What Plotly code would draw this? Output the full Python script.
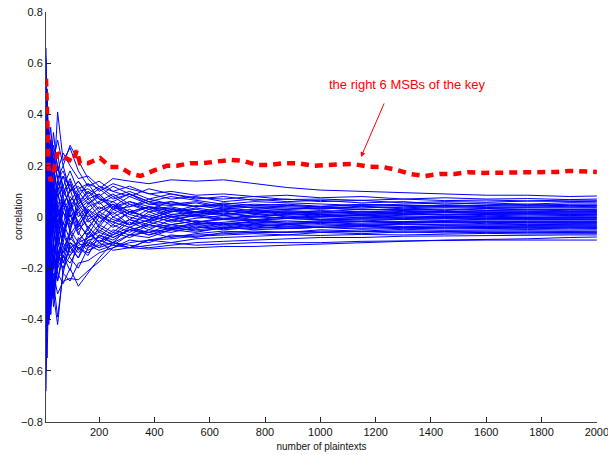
import plotly.graph_objects as go

# x positions (number of plaintexts) shared by all wrong-key traces
x_grid = [8, 12, 18, 25, 35, 50, 70, 95, 125, 160, 200, 250, 310, 380, 460, 550,
          650, 760, 880, 1000, 1150, 1300, 1450, 1600, 1750, 1900, 2000]

wrong_keys = [
    [0.30, 0.12, 0.22, 0.05, 0.18, 0.10, 0.16, 0.12, 0.08, 0.13, 0.11, 0.15, 0.14, 0.13, 0.145, 0.14, 0.145, 0.13, 0.115, 0.105, 0.10, 0.095, 0.09, 0.085, 0.085, 0.08, 0.082],
    [0.66, 0.35, 0.10, 0.25, 0.12, 0.41, 0.22, 0.27, 0.18, 0.12, 0.14, 0.10, 0.12, 0.09, 0.10, 0.085, 0.09, 0.08, 0.085, 0.075, 0.08, 0.07, 0.075, 0.07, 0.072, 0.068, 0.07],
    [-0.20, 0.40, 0.30, 0.20, 0.33, 0.18, 0.25, 0.20, 0.15, 0.16, 0.12, 0.10, 0.08, 0.11, 0.09, 0.07, 0.08, 0.065, 0.07, 0.06, 0.065, 0.055, 0.06, 0.058, 0.062, 0.06, 0.06],
    [0.10, -0.15, 0.28, 0.35, 0.22, 0.30, 0.20, 0.28, 0.22, 0.15, 0.10, 0.13, 0.11, 0.09, 0.07, 0.08, 0.06, 0.07, 0.06, 0.065, 0.055, 0.06, 0.05, 0.055, 0.05, 0.056, 0.055],
    [0.45, 0.20, -0.05, 0.15, 0.08, 0.12, 0.05, 0.10, 0.14, 0.08, 0.11, 0.07, 0.09, 0.06, 0.08, 0.065, 0.05, 0.06, 0.055, 0.05, 0.045, 0.05, 0.055, 0.05, 0.045, 0.05, 0.05],
    [-0.35, -0.10, 0.15, 0.05, 0.20, 0.08, 0.12, 0.03, 0.06, 0.10, 0.05, 0.08, 0.04, 0.07, 0.05, 0.06, 0.04, 0.05, 0.045, 0.04, 0.05, 0.045, 0.04, 0.045, 0.05, 0.044, 0.045],
    [0.25, 0.50, 0.18, 0.10, -0.02, 0.14, 0.09, 0.15, 0.07, 0.02, 0.06, 0.09, 0.05, 0.03, 0.06, 0.04, 0.05, 0.035, 0.045, 0.04, 0.035, 0.04, 0.045, 0.04, 0.038, 0.042, 0.04],
    [-0.05, 0.15, -0.12, 0.22, 0.10, -0.02, 0.06, 0.02, 0.10, 0.05, 0.08, 0.03, 0.06, 0.04, 0.02, 0.045, 0.03, 0.04, 0.035, 0.03, 0.04, 0.032, 0.036, 0.033, 0.035, 0.034, 0.035],
    [0.55, 0.05, 0.20, -0.08, 0.12, 0.06, -0.03, 0.08, 0.04, 0.07, 0.02, 0.05, 0.01, 0.04, 0.03, 0.02, 0.035, 0.025, 0.03, 0.035, 0.028, 0.03, 0.025, 0.032, 0.028, 0.03, 0.03],
    [-0.45, -0.25, 0.05, 0.12, -0.05, 0.09, 0.02, -0.04, 0.05, 0.00, 0.04, 0.01, 0.05, 0.02, 0.035, 0.015, 0.03, 0.02, 0.025, 0.02, 0.03, 0.025, 0.02, 0.025, 0.028, 0.024, 0.025],
    [0.15, -0.30, -0.08, 0.06, 0.15, -0.04, 0.10, 0.05, -0.02, 0.04, 0.06, 0.00, 0.03, -0.01, 0.02, 0.03, 0.01, 0.025, 0.015, 0.02, 0.015, 0.022, 0.018, 0.02, 0.02, 0.019, 0.02],
    [0.35, 0.08, 0.12, -0.15, 0.02, 0.11, -0.05, 0.04, 0.09, -0.01, 0.02, 0.05, -0.01, 0.03, 0.00, 0.02, 0.01, 0.02, 0.01, 0.015, 0.02, 0.012, 0.016, 0.014, 0.015, 0.016, 0.015],
    [-0.60, -0.20, -0.30, 0.00, -0.10, 0.05, 0.08, -0.02, 0.03, 0.06, 0.00, -0.02, 0.02, 0.04, 0.00, 0.01, 0.02, 0.00, 0.015, 0.005, 0.01, 0.012, 0.008, 0.01, 0.012, 0.01, 0.01],
    [0.05, 0.30, 0.00, 0.18, -0.06, 0.03, -0.08, 0.06, -0.03, 0.02, -0.04, 0.03, 0.00, -0.02, 0.01, 0.00, -0.01, 0.01, 0.005, 0.0, 0.01, 0.005, 0.0, 0.007, 0.004, 0.006, 0.005],
    [-0.25, 0.10, -0.20, -0.05, 0.08, -0.10, 0.02, -0.05, 0.04, -0.02, 0.01, -0.03, 0.02, 0.00, -0.015, 0.01, -0.005, 0.005, -0.005, 0.0, 0.005, -0.004, 0.002, 0.0, -0.002, 0.001, 0.0],
    [0.40, -0.05, 0.15, 0.02, -0.12, 0.04, -0.06, 0.01, -0.07, 0.03, -0.02, 0.02, -0.03, 0.01, -0.02, -0.005, 0.005, -0.01, 0.0, -0.008, -0.003, -0.006, -0.004, -0.006, -0.005, -0.004, -0.005],
    [-0.10, -0.40, -0.15, -0.28, -0.05, -0.12, -0.02, -0.09, -0.03, -0.07, 0.00, -0.04, -0.01, -0.03, 0.00, -0.02, -0.01, -0.015, -0.005, -0.012, -0.008, -0.01, -0.012, -0.009, -0.01, -0.011, -0.01],
    [0.20, 0.00, -0.25, -0.10, 0.05, -0.15, -0.08, 0.02, -0.06, -0.11, -0.04, -0.07, -0.02, -0.05, -0.01, -0.03, -0.02, -0.01, -0.02, -0.015, -0.012, -0.018, -0.014, -0.016, -0.015, -0.014, -0.015],
    [-0.68, -0.35, -0.10, -0.22, -0.30, -0.08, -0.14, -0.05, -0.10, -0.04, -0.08, -0.03, -0.06, -0.02, -0.04, -0.025, -0.03, -0.015, -0.025, -0.02, -0.018, -0.022, -0.02, -0.019, -0.021, -0.02, -0.02],
    [0.10, -0.18, 0.05, -0.32, -0.15, -0.20, -0.05, -0.12, -0.16, -0.06, -0.10, -0.05, -0.07, -0.03, -0.05, -0.02, -0.035, -0.025, -0.03, -0.02, -0.028, -0.025, -0.022, -0.026, -0.024, -0.025, -0.025],
    [-0.40, 0.05, -0.35, -0.12, -0.20, -0.05, -0.18, -0.08, -0.12, -0.15, -0.07, -0.10, -0.04, -0.06, -0.03, -0.045, -0.025, -0.035, -0.03, -0.025, -0.032, -0.028, -0.03, -0.031, -0.029, -0.03, -0.03],
    [0.30, -0.22, -0.40, -0.18, -0.28, -0.12, -0.22, -0.10, -0.14, -0.09, -0.12, -0.06, -0.08, -0.05, -0.06, -0.04, -0.045, -0.03, -0.04, -0.035, -0.03, -0.038, -0.034, -0.036, -0.035, -0.034, -0.035],
    [-0.55, -0.30, -0.20, -0.38, -0.10, -0.25, -0.15, -0.21, -0.08, -0.12, -0.07, -0.09, -0.05, -0.07, -0.04, -0.055, -0.045, -0.035, -0.045, -0.04, -0.038, -0.042, -0.04, -0.041, -0.039, -0.04, -0.04],
    [-0.15, -0.45, -0.28, -0.20, -0.35, -0.18, -0.10, -0.16, -0.20, -0.12, -0.09, -0.11, -0.07, -0.08, -0.05, -0.06, -0.04, -0.05, -0.045, -0.04, -0.048, -0.044, -0.046, -0.045, -0.044, -0.046, -0.045],
    [-0.30, -0.10, -0.42, -0.30, -0.25, -0.39, -0.22, -0.25, -0.18, -0.17, -0.14, -0.12, -0.09, -0.10, -0.07, -0.08, -0.06, -0.055, -0.06, -0.05, -0.055, -0.048, -0.052, -0.05, -0.049, -0.051, -0.05],
    [0.20, -0.25, -0.12, -0.33, -0.22, -0.30, -0.25, -0.24, -0.245, -0.21, -0.175, -0.12, -0.10, -0.09, -0.075, -0.07, -0.065, -0.06, -0.06, -0.055, -0.058, -0.054, -0.056, -0.055, -0.054, -0.056, -0.055],
    [-0.50, -0.30, -0.38, -0.25, -0.15, -0.22, -0.26, -0.20, -0.27, -0.22, -0.16, -0.10, -0.12, -0.09, -0.085, -0.075, -0.07, -0.065, -0.07, -0.06, -0.065, -0.058, -0.062, -0.06, -0.061, -0.059, -0.06],
    [-0.20, -0.40, -0.15, -0.28, -0.20, -0.14, -0.18, -0.12, -0.10, -0.13, -0.11, -0.10, -0.12, -0.09, -0.10, -0.085, -0.08, -0.075, -0.07, -0.072, -0.068, -0.07, -0.066, -0.064, -0.066, -0.065, -0.065],
    [0.00, -0.20, -0.30, -0.10, -0.18, -0.25, -0.12, -0.15, -0.11, -0.10, -0.12, -0.10, -0.11, -0.12, -0.11, -0.10, -0.095, -0.09, -0.085, -0.08, -0.08, -0.075, -0.074, -0.072, -0.071, -0.07, -0.07],
    [-0.35, -0.15, -0.25, -0.35, -0.28, -0.20, -0.15, -0.18, -0.12, -0.14, -0.10, -0.13, -0.12, -0.125, -0.12, -0.12, -0.115, -0.115, -0.11, -0.105, -0.10, -0.095, -0.09, -0.088, -0.085, -0.08, -0.078],
    [-0.10, -0.30, -0.20, -0.15, -0.25, -0.16, -0.14, -0.10, -0.12, -0.11, -0.13, -0.11, -0.12, -0.11, -0.10, -0.11, -0.105, -0.10, -0.10, -0.10, -0.095, -0.093, -0.092, -0.09, -0.09, -0.09, -0.09],
    [0.50, 0.25, 0.35, 0.28, 0.18, 0.25, 0.10, 0.14, 0.05, 0.08, 0.03, 0.06, 0.02, 0.04, 0.01, 0.02, 0.005, 0.015, 0.0, 0.01, 0.005, 0.0, -0.002, 0.003, 0.0, -0.001, 0.0],
    [0.62, 0.38, 0.20, 0.30, 0.25, 0.15, 0.20, 0.10, 0.12, 0.07, 0.09, 0.04, 0.06, 0.03, 0.04, 0.02, 0.025, 0.015, 0.02, 0.01, 0.015, 0.012, 0.01, 0.013, 0.012, 0.011, 0.012],
    [-0.30, -0.05, 0.10, -0.08, 0.00, -0.06, 0.05, -0.03, 0.02, -0.04, 0.01, -0.02, -0.04, -0.01, -0.03, -0.015, -0.025, -0.02, -0.015, -0.02, -0.017, -0.019, -0.018, -0.016, -0.018, -0.019, -0.018],
    [0.20, 0.45, 0.30, 0.15, 0.28, 0.20, 0.12, 0.18, 0.10, 0.11, 0.08, 0.12, 0.09, 0.06, 0.05, 0.04, 0.045, 0.035, 0.03, 0.035, 0.03, 0.028, 0.03, 0.026, 0.028, 0.029, 0.028],
    [-0.45, -0.55, -0.25, -0.15, -0.30, -0.42, -0.20, -0.15, -0.10, -0.08, -0.06, -0.08, -0.05, -0.06, -0.045, -0.05, -0.04, -0.045, -0.038, -0.04, -0.036, -0.04, -0.038, -0.037, -0.039, -0.038, -0.038],
    [0.35, 0.15, 0.28, 0.10, 0.22, 0.15, 0.18, 0.10, 0.14, 0.09, 0.12, 0.08, 0.10, 0.07, 0.09, 0.075, 0.07, 0.08, 0.068, 0.07, 0.065, 0.07, 0.064, 0.066, 0.063, 0.066, 0.065],
    [-0.10, 0.22, 0.05, 0.30, 0.10, 0.20, 0.08, 0.13, 0.05, 0.10, 0.07, 0.04, 0.08, 0.05, 0.045, 0.055, 0.035, 0.045, 0.04, 0.035, 0.042, 0.036, 0.04, 0.037, 0.039, 0.037, 0.038],
    [0.40, -0.10, 0.25, 0.08, -0.05, 0.16, 0.04, 0.11, 0.00, 0.05, 0.09, 0.03, 0.04, 0.06, 0.02, 0.035, 0.02, 0.03, 0.018, 0.025, 0.02, 0.024, 0.021, 0.023, 0.022, 0.021, 0.022],
    [-0.20, 0.18, -0.05, 0.10, 0.20, 0.00, 0.06, -0.06, 0.08, 0.01, -0.03, 0.04, 0.01, -0.01, 0.025, 0.005, 0.015, 0.0, 0.012, 0.008, 0.004, 0.01, 0.007, 0.009, 0.008, 0.007, 0.008],
    [0.25, -0.20, 0.08, -0.12, -0.20, -0.02, -0.10, 0.04, -0.05, -0.01, -0.06, 0.00, -0.03, -0.015, 0.005, -0.02, -0.005, -0.012, -0.006, -0.01, -0.007, -0.009, -0.006, -0.008, -0.009, -0.008, -0.008],
    [-0.52, -0.28, -0.40, -0.08, -0.18, -0.02, -0.12, -0.07, -0.02, -0.08, -0.03, -0.06, -0.01, -0.04, -0.03, -0.015, -0.03, -0.02, -0.025, -0.02, -0.024, -0.02, -0.023, -0.021, -0.022, -0.023, -0.022],
    [0.05, -0.35, -0.05, -0.25, -0.10, -0.18, -0.06, -0.14, -0.09, -0.05, -0.10, -0.07, -0.04, -0.07, -0.05, -0.035, -0.05, -0.04, -0.045, -0.04, -0.044, -0.04, -0.043, -0.041, -0.042, -0.043, -0.042],
    [-0.25, -0.05, -0.30, -0.18, -0.32, -0.15, -0.20, -0.11, -0.16, -0.09, -0.08, -0.10, -0.07, -0.06, -0.08, -0.065, -0.055, -0.062, -0.058, -0.06, -0.056, -0.06, -0.057, -0.059, -0.058, -0.057, -0.058],
    [0.15, 0.32, 0.10, 0.20, 0.02, 0.12, 0.16, 0.06, 0.11, 0.13, 0.07, 0.06, 0.09, 0.05, 0.06, 0.04, 0.055, 0.045, 0.05, 0.042, 0.048, 0.044, 0.046, 0.045, 0.043, 0.046, 0.045],
    [-0.35, 0.00, 0.18, -0.02, 0.08, -0.08, 0.03, 0.07, -0.04, 0.03, 0.00, 0.05, 0.02, 0.00, 0.03, 0.01, 0.025, 0.015, 0.02, 0.016, 0.02, 0.017, 0.019, 0.018, 0.017, 0.019, 0.018],
    [0.15, -0.12, 0.22, 0.00, 0.12, -0.06, 0.07, 0.00, 0.03, -0.05, 0.02, -0.01, -0.03, 0.02, -0.01, 0.005, -0.01, 0.0, -0.004, 0.002, -0.003, 0.0, -0.002, -0.001, -0.003, -0.002, -0.002],
    [-0.10, 0.12, -0.18, -0.38, -0.12, -0.10, -0.16, -0.06, -0.13, -0.08, -0.05, -0.08, -0.05, -0.03, -0.045, -0.03, -0.04, -0.028, -0.035, -0.03, -0.033, -0.03, -0.032, -0.031, -0.033, -0.032, -0.032],
]

right_x = [8, 10, 12, 14, 18, 25, 35, 50, 60, 80, 106, 119, 131, 160, 204, 240, 276, 312,
           350, 395, 445, 481, 529, 577, 626, 674, 721, 771, 818, 865, 915, 974, 1023, 1071,
           1118, 1179, 1227, 1276, 1324, 1378, 1432, 1486, 1534, 1588, 1642, 1697, 1746, 1801,
           1855, 1902, 1956, 2000]
right_y = [0.54, 0.47, 0.38, 0.30, 0.18, 0.14, 0.17, 0.25, 0.24, 0.23, 0.215, 0.26, 0.21,
           0.21, 0.23, 0.195, 0.195, 0.17, 0.16, 0.18, 0.20, 0.20, 0.21, 0.21, 0.215, 0.223,
           0.219, 0.203, 0.203, 0.21, 0.21, 0.20, 0.203, 0.207, 0.207, 0.196, 0.195, 0.184,
           0.168, 0.16, 0.168, 0.168, 0.175, 0.172, 0.172, 0.172, 0.175, 0.176, 0.176, 0.18,
           0.176, 0.176]

y_ticks = [-0.8, -0.6, -0.4, -0.2, 0, 0.2, 0.4, 0.6, 0.8]
y_ticklabels = ["−0.8", "−0.6", "−0.4", "−0.2", "0", "0.2", "0.4", "0.6", "0.8"]
x_ticks = [200, 400, 600, 800, 1000, 1200, 1400, 1600, 1800, 2000]
x_ticklabels = ["200", "400", "600", "800", "1000", "1200", "1400", "1600", "1800", "2000"]

FONT = "Liberation Sans, Arial, sans-serif"

fig = go.Figure()
for ys in wrong_keys:
    fig.add_trace(go.Scatter(x=x_grid, y=ys, mode="lines",
                             line=dict(color="#0000ff", width=1),
                             showlegend=False, hoverinfo="skip"))
fig.add_trace(go.Scatter(x=right_x, y=right_y, mode="lines",
                         line=dict(color="#ff0000", width=4.5, dash="8px,6px"),
                         showlegend=False, hoverinfo="skip"))

fig.add_annotation(x=1317, y=0.516, xref="x", yref="y",
                   text="the right 6 MSBs of the key", showarrow=False,
                   font=dict(family=FONT, size=13, color="#ff0000"))
fig.add_annotation(x=1147, y=0.234, ax=1233, ay=0.449, xref="x", yref="y",
                   axref="x", ayref="y", text="", showarrow=True,
                   arrowhead=2, arrowsize=1, arrowwidth=1, arrowcolor="#ff0000")
# y-axis title placed as an annotation for exact position
fig.add_annotation(x=0, y=0.5, xref="paper", yref="paper", xshift=-28,
                   text="correlation", textangle=-90, showarrow=False,
                   xanchor="center", yanchor="middle",
                   font=dict(family=FONT, size=10, color="#111111"))

axis_common = dict(showgrid=False, zeroline=False, showline=True, linecolor="#444444",
                   linewidth=1, ticks="inside", ticklen=5, tickcolor="#222222",
                   tickfont=dict(family=FONT, size=11, color="#111111"),
                   mirror=False, automargin=False, ticklabeloverflow="allow")

fig.update_layout(
    width=608, height=455,
    margin=dict(l=46, r=11, t=12, b=33),
    paper_bgcolor="white", plot_bgcolor="white",
    xaxis=dict(range=[8, 2000.5], tickmode="array", tickvals=x_ticks, ticktext=x_ticklabels,
               title=dict(text="number of plaintexts", standoff=5,
                          font=dict(family=FONT, size=10, color="#111111")),
               **axis_common),
    yaxis=dict(range=[-0.8, 0.8], tickmode="array", tickvals=y_ticks, ticktext=y_ticklabels,
               **axis_common),
)

# remove the browser's default 8px body margin so the 608x455 figure fills the window
fig.write_html("out.html", config={"displayModeBar": False},
               post_script="document.body.style.margin='0px';")
